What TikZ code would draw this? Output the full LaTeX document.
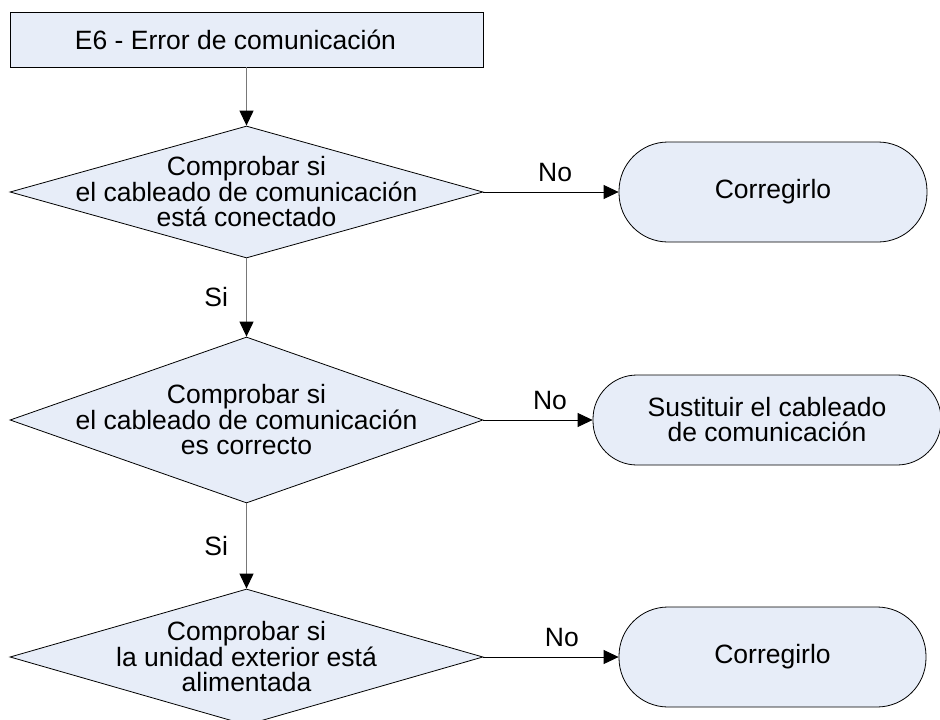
\documentclass[tikz,border=0pt]{standalone}
\usepackage{fontspec}
\setmainfont{Liberation Sans}
\usetikzlibrary{shapes.geometric,arrows.meta}
\definecolor{boxfill}{RGB}{231,237,248}
\definecolor{vline}{RGB}{120,120,120}
\begin{document}
\begin{tikzpicture}[x=1pt,y=-1pt,
  every node/.style={font=\fontsize{26.5}{25}\selectfont},
  shp/.style={draw=black, line width=0.8pt, fill=boxfill},
  dia/.style={shp, diamond, inner sep=0pt, minimum width=473pt},
  term/.style={shp, rectangle, inner sep=0pt, align=center},
  dtext/.style={align=center, inner sep=0pt},
  vconn/.style={draw=vline, line width=1.1pt, -{Triangle[length=15pt,width=14pt,color=black]}},
  hconn/.style={draw=black, line width=0.8pt, -{Triangle[length=15pt,width=14pt]}},
  lbl/.style={inner sep=0pt}
]
\useasboundingbox (0,0) rectangle (940,720);

\node[shp, rectangle, minimum width=473pt, minimum height=55pt, inner sep=0pt] (start) at (246.5,39.5) {E6 - Error de comunicación\hspace*{22pt}};

\node[dia, minimum height=132pt] (d1) at (246.5,192) {};
\node[dtext] (t1) at (d1.center) {Comprobar si\\el cableado de comunicación\\está conectado};

\node[dia, minimum height=166pt] (d2) at (246.5,420) {};
\node[dtext] (t2) at (d2.center) {Comprobar si\\el cableado de comunicación\\es correcto};

\node[dia, minimum height=136pt] (d3) at (246.5,657) {};
\node[dtext] (t3) at (d3.center) {Comprobar si\\la unidad exterior está\hspace*{28pt}\\alimentada};

\node[term, minimum width=308pt, minimum height=100pt, rounded corners=49pt] (b1) at (773,192) {Corregirlo};
\node[term, minimum width=348pt, minimum height=90pt, rounded corners=44pt] (b2) at (767,420) {Sustituir el cableado\\de comunicación};
\node[term, minimum width=307pt, minimum height=100pt, rounded corners=49pt] (b3) at (772.5,657) {Corregirlo};

\draw[vconn] (start.south) -- (d1.north);
\draw[vconn] (d1.south) -- node[lbl, left=18pt] (si1) {Si} (d2.north);
\draw[vconn] (d2.south) -- node[lbl, left=18pt] (si2) {Si} (d3.north);

\draw[hconn] (d1.east) -- node[lbl, pos=0.53, above=10pt] (no1) {No} (b1.west);
\draw[hconn] (d2.east) -- node[lbl, pos=0.61, above=10pt] (no2) {No} (b2.west);
\draw[hconn] (d3.east) -- node[lbl, pos=0.58, above=10pt] (no3) {No} (b3.west);
\end{tikzpicture}
\end{document}
